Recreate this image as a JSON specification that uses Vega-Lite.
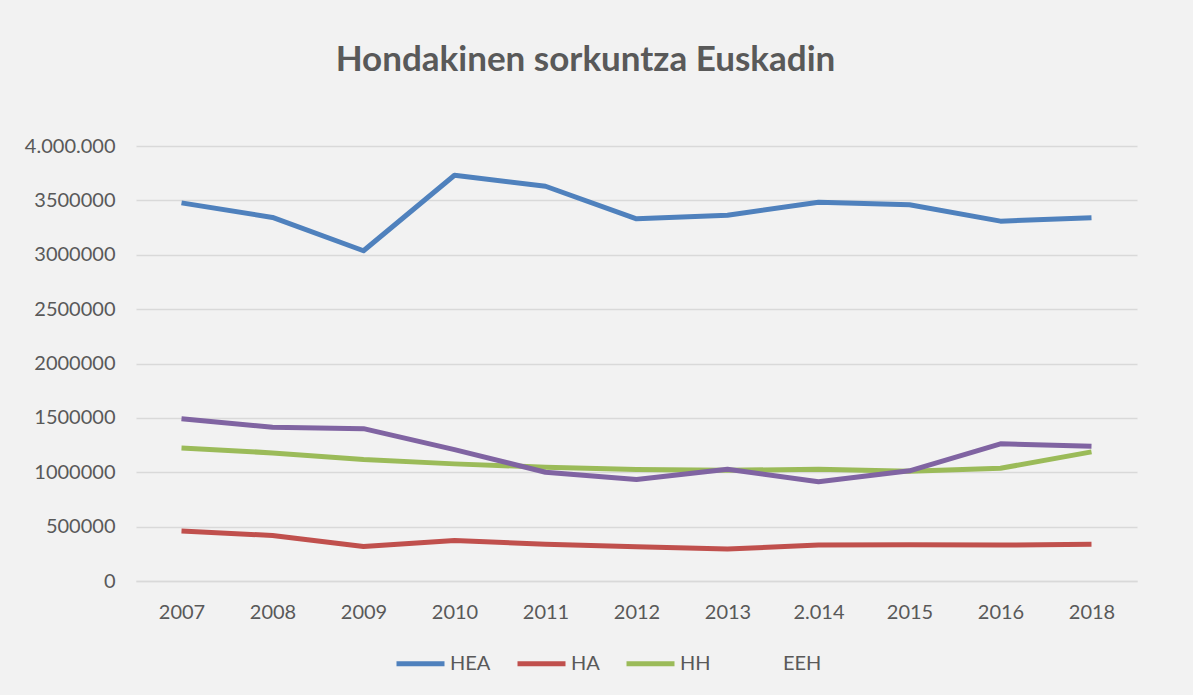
{
  "$schema": "https://vega.github.io/schema/vega-lite/v6.json",
  "width": 1001,
  "height": 435,
  "autosize": {"type": "none"},
  "padding": {"left": 136, "top": 146, "right": 56, "bottom": 114},
  "background": "#f2f2f2",
  "title": {
    "text": "Hondakinen sorkuntza Euskadin",
    "anchor": "middle",
    "frame": "group",
    "dx": -51,
    "offset": 30,
    "baseline": "alphabetic",
    "font": "Lato",
    "fontSize": 35,
    "fontWeight": "bold",
    "color": "#595959"
  },
  "config": {
    "view": {"stroke": null},
    "font": "Lato"
  },
  "data": {
    "values": [
      {"urtea": "2007", "mota": "HEA", "balioa": 3477000},
      {"urtea": "2008", "mota": "HEA", "balioa": 3343000},
      {"urtea": "2009", "mota": "HEA", "balioa": 3037000},
      {"urtea": "2010", "mota": "HEA", "balioa": 3731000},
      {"urtea": "2011", "mota": "HEA", "balioa": 3630000},
      {"urtea": "2012", "mota": "HEA", "balioa": 3330000},
      {"urtea": "2013", "mota": "HEA", "balioa": 3364000},
      {"urtea": "2.014", "mota": "HEA", "balioa": 3483000},
      {"urtea": "2015", "mota": "HEA", "balioa": 3459000},
      {"urtea": "2016", "mota": "HEA", "balioa": 3309000},
      {"urtea": "2018", "mota": "HEA", "balioa": 3340000},
      {"urtea": "2007", "mota": "HA", "balioa": 459000},
      {"urtea": "2008", "mota": "HA", "balioa": 419000},
      {"urtea": "2009", "mota": "HA", "balioa": 318000},
      {"urtea": "2010", "mota": "HA", "balioa": 373000},
      {"urtea": "2011", "mota": "HA", "balioa": 337000},
      {"urtea": "2012", "mota": "HA", "balioa": 316000},
      {"urtea": "2013", "mota": "HA", "balioa": 294000},
      {"urtea": "2.014", "mota": "HA", "balioa": 330000},
      {"urtea": "2015", "mota": "HA", "balioa": 334000},
      {"urtea": "2016", "mota": "HA", "balioa": 330000},
      {"urtea": "2018", "mota": "HA", "balioa": 337000},
      {"urtea": "2007", "mota": "HH", "balioa": 1224000},
      {"urtea": "2008", "mota": "HH", "balioa": 1178000},
      {"urtea": "2009", "mota": "HH", "balioa": 1117000},
      {"urtea": "2010", "mota": "HH", "balioa": 1077000},
      {"urtea": "2011", "mota": "HH", "balioa": 1046000},
      {"urtea": "2012", "mota": "HH", "balioa": 1025000},
      {"urtea": "2013", "mota": "HH", "balioa": 1018000},
      {"urtea": "2.014", "mota": "HH", "balioa": 1028000},
      {"urtea": "2015", "mota": "HH", "balioa": 1009000},
      {"urtea": "2016", "mota": "HH", "balioa": 1037000},
      {"urtea": "2018", "mota": "HH", "balioa": 1187000},
      {"urtea": "2007", "mota": "EEH", "balioa": 1492000},
      {"urtea": "2008", "mota": "EEH", "balioa": 1413000},
      {"urtea": "2009", "mota": "EEH", "balioa": 1401000},
      {"urtea": "2010", "mota": "EEH", "balioa": 1208000},
      {"urtea": "2011", "mota": "EEH", "balioa": 1000000},
      {"urtea": "2012", "mota": "EEH", "balioa": 933000},
      {"urtea": "2013", "mota": "EEH", "balioa": 1028000},
      {"urtea": "2.014", "mota": "EEH", "balioa": 912000},
      {"urtea": "2015", "mota": "EEH", "balioa": 1013000},
      {"urtea": "2016", "mota": "EEH", "balioa": 1261000},
      {"urtea": "2018", "mota": "EEH", "balioa": 1239000}
    ]
  },
  "mark": {"type": "line", "strokeWidth": 5, "strokeCap": "butt", "strokeJoin": "round"},
  "encoding": {
    "x": {
      "field": "urtea",
      "type": "ordinal",
      "sort": null,
      "scale": {"type": "point", "padding": 0.5},
      "axis": {
        "title": null,
        "labelAngle": 0,
        "ticks": false,
        "grid": false,
        "domain": true,
        "domainColor": "#d9d9d9",
        "domainWidth": 1.5,
        "labelFont": "Lato",
        "labelFontSize": 20,
        "labelColor": "#595959",
        "labelPadding": 21
      }
    },
    "y": {
      "field": "balioa",
      "type": "quantitative",
      "scale": {"domain": [0, 4000000], "nice": false, "zero": true},
      "axis": {
        "title": null,
        "values": [0, 500000, 1000000, 1500000, 2000000, 2500000, 3000000, 3500000, 4000000],
        "labelExpr": "datum.value == 4000000 ? '4.000.000' : format(datum.value, 'd')",
        "ticks": false,
        "domain": false,
        "grid": true,
        "gridColor": "#d9d9d9",
        "gridWidth": 1.5,
        "labelFont": "Lato",
        "labelFontSize": 20,
        "labelColor": "#595959",
        "labelPadding": 21
      }
    },
    "color": {
      "field": "mota",
      "type": "nominal",
      "sort": ["HEA", "HA", "HH", "EEH"],
      "scale": {
        "domain": ["HEA", "HA", "HH", "EEH"],
        "range": ["#4f81bd", "#c0504d", "#9bbb59", "#8064a2"]
      },
      "legend": {
        "title": null,
        "orient": "none",
        "direction": "horizontal",
        "legendX": 258,
        "legendY": 491,
        "symbolType": "stroke",
        "symbolSize": 2304,
        "symbolStrokeWidth": 5,
        "labelFont": "Lato",
        "labelFontSize": 20,
        "labelColor": "#595959",
        "labelOffset": 3,
        "columnPadding": 16,
        "encode": {
          "symbols": {
            "update": {
              "opacity": {"signal": "datum.value === 'EEH' ? 0 : 1"},
              "strokeOpacity": {"signal": "datum.value === 'EEH' ? 0 : 1"}
            }
          }
        }
      }
    }
  }
}
